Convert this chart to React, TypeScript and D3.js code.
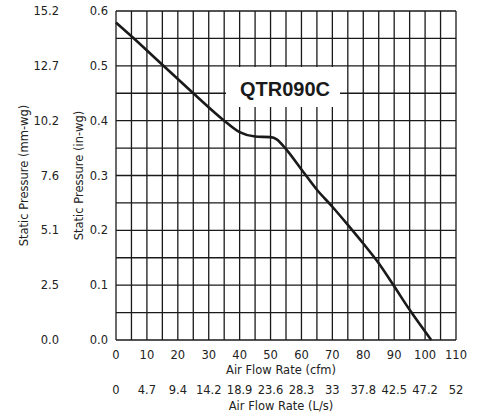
import React from "react";
import * as d3 from "d3";

const cfm = [0, 5, 15, 25, 35, 40, 45, 50, 52, 55, 60, 65, 70, 75, 80, 85, 90, 95, 102];
const inwg = [0.579, 0.554, 0.502, 0.45, 0.4, 0.379, 0.371, 0.37, 0.366, 0.348, 0.311, 0.274, 0.243, 0.21, 0.176, 0.14, 0.098, 0.055, 0.0];

const cfmTicks = [0, 10, 20, 30, 40, 50, 60, 70, 80, 90, 100, 110];
const lsLabels = ["0", "4.7", "9.4", "14.2", "18.9", "23.6", "28.3", "33", "37.8", "42.5", "47.2", "52"];
const inwgTicks = [0, 0.1, 0.2, 0.3, 0.4, 0.5, 0.6];
const mmLabels = ["0.0", "2.5", "5.1", "7.6", "10.2", "12.7", "15.2"];
const title = "QTR090C";

const W = 487, H = 416;
const L = 116, R = 456, T = 11, B = 340;

export default function App() {
  const x = d3.scaleLinear().domain([0, 110]).range([L, R]);
  const y = d3.scaleLinear().domain([0, 0.6]).range([B, T]);
  const vGrid = d3.range(0, 111, 5);
  const hGrid = d3.range(0, 13).map((i) => i * 0.05);
  const pts: [number, number][] = cfm.map((c, i) => [c, inwg[i]]);
  const line = d3
    .line<[number, number]>()
    .x((d) => x(d[0]))
    .y((d) => y(d[1]))
    .curve(d3.curveMonotoneX);
  const font = "'DejaVu Sans', sans-serif";
  const gridColor = "#1a1a1a";
  const box = { x0: 226, x1: 340, y0: 67, y1: 107 };
  return (
    <svg
      width={W}
      height={H}
      style={{ position: "absolute", left: 0, top: 0, background: "#fff" }}
      fontFamily={font}
    >
      <rect x={0} y={0} width={W} height={H} fill="#fff" />
      <g stroke={gridColor} strokeWidth={1.3}>
        {vGrid.map((v) => (
          <line key={"v" + v} x1={x(v)} x2={x(v)} y1={T} y2={B} />
        ))}
        {hGrid.map((v) => (
          <line key={"h" + v} x1={L} x2={R} y1={y(v)} y2={y(v)} />
        ))}
      </g>
      <rect x={box.x0} y={box.y0} width={box.x1 - box.x0} height={box.y1 - box.y0} fill="#fff" />
      <text
        x={285}
        y={96}
        textAnchor="middle"
        fontFamily="'Liberation Sans', Arial, sans-serif"
        fontWeight="bold"
        fontSize={20}
        fill="#1a1a1a"
      >
        {title}
      </text>
      <path d={line(pts) || ""} fill="none" stroke="#1a1a1a" strokeWidth={2.6} />
      <g fontSize={11.5} fill="#222">
        {inwgTicks.map((v, i) => (
          <g key={"y" + i}>
            <text x={108} y={y(v)} textAnchor="end" dominantBaseline="central">
              {v.toFixed(1)}
            </text>
            <text x={59} y={y(v)} textAnchor="end" dominantBaseline="central">
              {mmLabels[i]}
            </text>
          </g>
        ))}
        {cfmTicks.map((v, i) => (
          <g key={"x" + i}>
            <text x={x(v)} y={359} textAnchor="middle">
              {v}
            </text>
            <text x={x(v)} y={394} textAnchor="middle">
              {lsLabels[i]}
            </text>
          </g>
        ))}
        <text x={281} y={374} textAnchor="middle">Air Flow Rate (cfm)</text>
        <text x={281} y={410} textAnchor="middle">Air Flow Rate (L/s)</text>
        <text
          transform={`translate(79,${(T + B) / 2}) rotate(-90)`}
          textAnchor="middle"
          dominantBaseline="central"
        >
          Static Pressure (in-wg)
        </text>
        <text
          transform={`translate(24,${(T + B) / 2}) rotate(-90)`}
          textAnchor="middle"
          dominantBaseline="central"
        >
          Static Pressure (mm-wg)
        </text>
      </g>
    </svg>
  );
}
